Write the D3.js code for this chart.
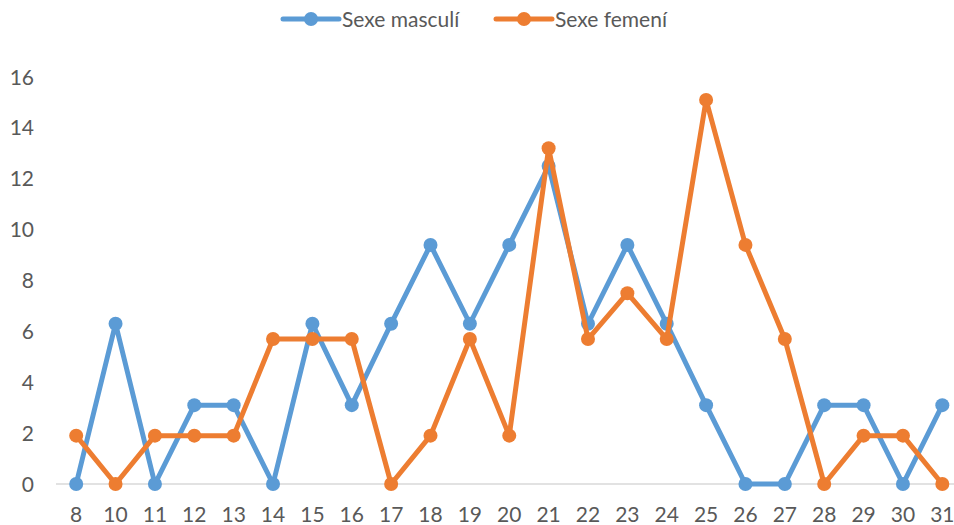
<!DOCTYPE html>
<html>
<head>
<meta charset="utf-8">
<script src="https://cdn.jsdelivr.net/npm/d3@7"></script>
<style>
  body { margin: 0; background: #fff; }
  text { font-family: Lato, "Open Sans", sans-serif; fill: #595959; }
</style>
</head>
<body>
<div id="chart-area"></div>
<script>
// categories and series
var ages = ["8","10","11","12","13","14","15","16","17","18","19","20","21","22","23","24","25","26","27","28","29","30","31"];
var masculi = [0,6.3,0,3.1,3.1,0,6.3,3.1,6.3,9.4,6.3,9.4,12.5,6.3,9.4,6.3,3.1,0,0,3.1,3.1,0,3.1];
var femeni = [1.9,0,1.9,1.9,1.9,5.7,5.7,5.7,0,1.9,5.7,1.9,13.2,5.7,7.5,5.7,15.1,9.4,5.7,0,1.9,1.9,0];
var yTicks = [0,2,4,6,8,10,12,14,16];
var seriesNames = ["Sexe masculí", "Sexe femení"];
var colors = ["#5B9BD5", "#ED7D31"];

var width = 954, height = 525;

var svg = d3.select("#chart-area").append("svg")
    .attr("width", width)
    .attr("height", height);

// x band scale, y linear
var xScale = d3.scaleBand()
    .domain(ages)
    .range([56.5, 962])
    .padding(0);

var yScale = d3.scaleLinear()
    .domain([0, 16])
    .range([484, 77]);

var cx = function(d) { return xScale(d) + xScale.bandwidth() / 2; };

// horizontal axis line
svg.append("line")
    .attr("x1", 56).attr("x2", 960)
    .attr("y1", yScale(0)).attr("y2", yScale(0))
    .attr("stroke", "#D9D9D9")
    .attr("stroke-width", 1.5);

// y tick labels
svg.selectAll(".ylab")
    .data(yTicks)
    .enter()
    .append("text")
    .attr("x", 34)
    .attr("y", function(d) { return yScale(d) + 7.5; })
    .attr("text-anchor", "end")
    .style("font-size", "21px")
    .text(function(d) { return d; });

// x tick labels
svg.selectAll(".xlab")
    .data(ages)
    .enter()
    .append("text")
    .attr("x", cx)
    .attr("y", 522)
    .attr("text-anchor", "middle")
    .style("font-size", "21px")
    .text(function(d) { return d; });

// lines and markers
var line = d3.line()
    .x(function(d, i) { return cx(ages[i]); })
    .y(function(d) { return yScale(d); });

[masculi, femeni].forEach(function(vals, k) {
    svg.append("path")
        .datum(vals)
        .attr("d", line)
        .attr("fill", "none")
        .attr("stroke", colors[k])
        .attr("stroke-width", 5)
        .attr("stroke-linejoin", "round");

    svg.selectAll(".m" + k)
        .data(vals)
        .enter()
        .append("circle")
        .attr("cx", function(d, i) { return cx(ages[i]); })
        .attr("cy", function(d) { return yScale(d); })
        .attr("r", 7)
        .attr("fill", colors[k]);
});

// legend
var legendX = [283, 496];
seriesNames.forEach(function(name, k) {
    var g = svg.append("g").attr("transform", "translate(" + legendX[k] + ",19)");
    g.append("line")
        .attr("x1", 0).attr("x2", 56)
        .attr("stroke", colors[k])
        .attr("stroke-width", 5)
        .attr("stroke-linecap", "round");
    g.append("circle")
        .attr("cx", 28).attr("r", 7)
        .attr("fill", colors[k]);
    g.append("text")
        .attr("x", 59)
        .attr("y", 8)
        .style("font-size", "21px")
        .text(name);
});
</script>
</body>
</html>
